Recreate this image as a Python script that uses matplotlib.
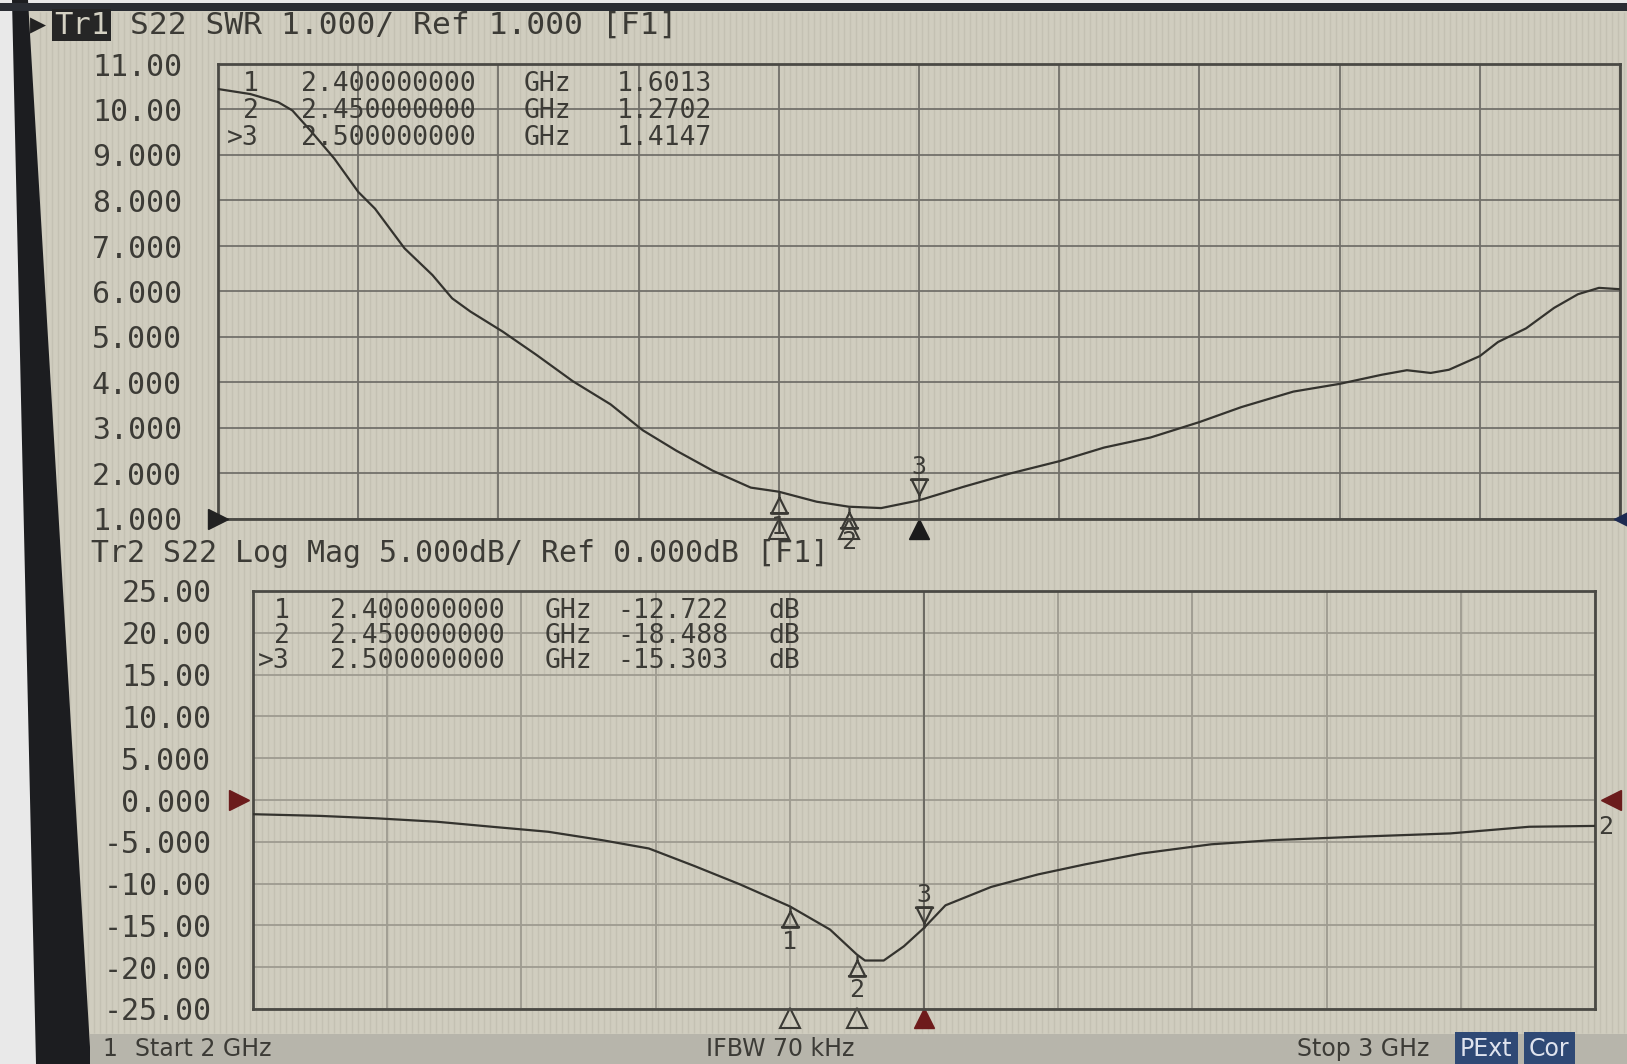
import matplotlib
matplotlib.use("Agg")
import matplotlib.pyplot as plt
import matplotlib.transforms as mtrans
from matplotlib.patches import Polygon, Rectangle
from matplotlib.path import Path
from matplotlib.collections import LineCollection
import numpy as np

# --- data ---
freq_ticks = [2.0, 2.1, 2.2, 2.3, 2.4, 2.5, 2.6, 2.7, 2.8, 2.9, 3.0]

swr_freq = [2.0, 2.023, 2.043, 2.053, 2.067, 2.083, 2.10, 2.112, 2.133, 2.153, 2.167, 2.18,
            2.203, 2.227, 2.253, 2.28, 2.303, 2.327, 2.353, 2.38, 2.40, 2.427, 2.45, 2.473,
            2.50, 2.532, 2.565, 2.60, 2.632, 2.665, 2.70, 2.73, 2.767, 2.80, 2.83, 2.848,
            2.865, 2.878, 2.90, 2.913, 2.933, 2.953, 2.97, 2.985, 3.0]
swr_vals = [10.45, 10.34, 10.16, 9.98, 9.50, 8.92, 8.19, 7.82, 6.95, 6.36, 5.85, 5.56,
            5.12, 4.61, 4.03, 3.52, 2.95, 2.50, 2.06, 1.69, 1.60, 1.38, 1.27, 1.24,
            1.41, 1.71, 2.0, 2.27, 2.57, 2.79, 3.13, 3.46, 3.80, 3.97, 4.17, 4.27,
            4.21, 4.28, 4.58, 4.89, 5.19, 5.64, 5.94, 6.08, 6.05]

s22_freq = [2.0, 2.05, 2.093, 2.137, 2.178, 2.22, 2.26, 2.295, 2.329, 2.363, 2.40, 2.43,
            2.45, 2.456, 2.47, 2.485, 2.50, 2.516, 2.55, 2.585, 2.62, 2.662, 2.714, 2.76,
            2.822, 2.892, 2.951, 3.0]
s22_vals = [-1.7, -1.9, -2.2, -2.6, -3.2, -3.8, -4.8, -5.8, -7.9, -10.1, -12.72, -15.5,
            -18.49, -19.2, -19.2, -17.5, -15.30, -12.6, -10.4, -8.9, -7.7, -6.4, -5.3, -4.8,
            -4.4, -4.0, -3.2, -3.1]

swr_ticks = [1, 2, 3, 4, 5, 6, 7, 8, 9, 10, 11]
swr_labels = ["1.000", "2.000", "3.000", "4.000", "5.000", "6.000", "7.000", "8.000",
              "9.000", "10.00", "11.00"]
db_ticks = [-25, -20, -15, -10, -5, 0, 5, 10, 15, 20, 25]
db_labels = ["-25.00", "-20.00", "-15.00", "-10.00", "-5.000", "0.000", "5.000", "10.00",
             "15.00", "20.00", "25.00"]

mk_names = ["1", "2", ">3"]
mk_freq = [2.4, 2.45, 2.5]
swr_mk = [1.6013, 1.2702, 1.4147]
s22_mk = [-12.722, -18.488, -15.303]

# --- look ---
W, H = 1627, 1064
SCREEN = "#d0cdbf"
TXT = "#3c3b36"
TRACE = "#34332e"
MONO = "DejaVu Sans Mono"


def fx(x):
    return x / W


def fy(y):
    return 1 - y / H


fig = plt.figure(figsize=(W / 100, H / 100), dpi=100, facecolor="#e9e9e9")

# screen, texture, bezel, status bar
fig.add_artist(Polygon([(fx(27), fy(11)), (1, fy(11)), (1, 0), (fx(90), 0)],
                       closed=True, transform=fig.transFigure, fc=SCREEN, ec="none", zorder=-10))
xs = np.arange(40, W, 6)
segs = [[(fx(x), fy(12)), (fx(x), fy(1033))] for x in xs]
fig.add_artist(LineCollection(segs, colors="#c4c1b3", linewidths=1.0,
                              transform=fig.transFigure, zorder=-9))
fig.add_artist(Polygon([(fx(12), 1), (fx(28), 1), (fx(91), 0), (fx(36), 0)],
                       closed=True, transform=fig.transFigure, fc="#1c1d20", ec="none", zorder=-6))
fig.add_artist(Rectangle((0, fy(11)), 1, fy(3) - fy(11), transform=fig.transFigure,
                         fc="#2a2d33", ec="none", zorder=-6))
fig.add_artist(Rectangle((fx(90), 0), 1, fy(1034), transform=fig.transFigure,
                         fc="#b7b5ab", ec="none", zorder=-5))

ax1 = fig.add_axes([fx(218), fy(519), (1620 - 218) / W, (519 - 64) / H])
ax2 = fig.add_axes([fx(253), fy(1009), (1595 - 253) / W, (1009 - 591) / H])

for ax, grid_col in ((ax1, "#72706a"), (ax2, "#9e9b90")):
    ax.set_facecolor("none")
    ax.set_xlim(2.0, 3.0)
    ax.set_xticks(freq_ticks)
    ax.set_xticklabels([])
    ax.tick_params(axis="both", length=0)
    ax.grid(True, color=grid_col, lw=1.3)
    for s in ax.spines.values():
        s.set_color("#4a4944")
        s.set_linewidth(2)

ax1.set_ylim(1, 11)
ax1.set_yticks(swr_ticks)
ax1.set_yticklabels(swr_labels, family=MONO, fontsize=21.5, color=TXT)
ax1.tick_params(axis="y", pad=26)

ax2.set_ylim(-25, 25)
ax2.set_yticks(db_ticks)
ax2.set_yticklabels(db_labels, family=MONO, fontsize=21.5, color=TXT)
ax2.tick_params(axis="y", pad=30)
# marker 3 position line is darker in the log mag view
ax2.axvline(mk_freq[2], color="#6c6a63", lw=1.4, zorder=2)

ax1.plot(swr_freq, swr_vals, color=TRACE, lw=1.6, zorder=3)
ax2.plot(s22_freq, s22_vals, color=TRACE, lw=1.6, zorder=3)

# marker symbols
up = Path([(0, 0), (0, -0.3), (0, -0.3), (-0.45, -1.2), (0.45, -1.2), (0, -0.3),
           (-0.55, -1.2), (0.55, -1.2)],
          [Path.MOVETO, Path.LINETO, Path.MOVETO, Path.LINETO, Path.LINETO, Path.CLOSEPOLY,
           Path.MOVETO, Path.LINETO])
down = Path(up.vertices * [1, -1], up.codes)

for ax, vals, dark3 in ((ax1, swr_mk, "#1b1b1b"), (ax2, s22_mk, "#6e1b1b")):
    ax.plot(mk_freq[:2], vals[:2], ls="none", marker=up, ms=30, mfc="none",
            mec="#3a3934", mew=1.6, zorder=4, clip_on=False)
    ax.plot(mk_freq[2:], vals[2:], ls="none", marker=down, ms=30, mfc="none",
            mec="#3a3934", mew=1.6, zorder=4, clip_on=False)
    for i in range(2):
        ax.annotate(str(i + 1), (mk_freq[i], vals[i]), xytext=(0, -17), textcoords="offset points",
                    ha="center", va="top", family=MONO, fontsize=18, color=TXT,
                    annotation_clip=False)
    ax.annotate("3", (mk_freq[2], vals[2]), xytext=(0, 15), textcoords="offset points",
                ha="center", va="bottom", family=MONO, fontsize=18, color=TXT)
    # marker position indicators under the grid
    xt = ax.get_xaxis_transform()
    ax.plot(mk_freq[:2], [-0.022, -0.022], transform=xt, ls="none", marker="^", ms=15,
            mfc="none", mec="#3a3934", mew=1.5, clip_on=False)
    ax.plot(mk_freq[2:], [-0.022], transform=xt, ls="none", marker="^", ms=15,
            mfc=dark3, mec=dark3, clip_on=False)

# reference position arrows
ax1.plot([2.0], [1.0], marker=">", ms=14, color="#222222", clip_on=False, zorder=5)
ax1.plot([3.0], [1.0], marker="<", ms=14, color="#1d2b52", clip_on=False, zorder=5,
         transform=mtrans.offset_copy(ax1.transData, fig=fig, x=4, y=0, units="dots"))
ax2.plot([2.0], [0.0], marker=">", ms=15, color="#6b1c1c", clip_on=False, zorder=5,
         transform=mtrans.offset_copy(ax2.transData, fig=fig, x=-14, y=0, units="dots"))
ax2.plot([3.0], [0.0], marker="<", ms=15, color="#6b1c1c", clip_on=False, zorder=5,
         transform=mtrans.offset_copy(ax2.transData, fig=fig, x=16, y=0, units="dots"))
fig.text(fx(1606), fy(827), "2", family=MONO, fontsize=18, color=TXT, ha="center", va="center")

# headers
fig.text(fx(30), fy(25), "\u25b6", fontsize=15, color="#222222", va="center")
fig.text(fx(54), fy(25), "Tr1", family=MONO, fontsize=22, color="#d4d1c3", va="center",
         bbox=dict(boxstyle="square,pad=0.06", fc="#262626", ec="none"))
fig.text(fx(130), fy(25), "S22 SWR 1.000/ Ref 1.000 [F1]", family=MONO, fontsize=22.5,
         color=TXT, va="center")
fig.text(fx(91), fy(553), "Tr2 S22 Log Mag 5.000dB/ Ref 0.000dB [F1]", family=MONO,
         fontsize=21.5, color=TXT, va="center")

# marker readouts, column by column
RO = dict(family=MONO, fontsize=19, color=TXT, va="center")
top_rows = [84, 111, 138]
bot_rows = [611, 636, 661]
for i in range(3):
    y = fy(top_rows[i])
    fig.text(fx(259), y, mk_names[i], ha="right", **RO)
    fig.text(fx(301), y, f"{mk_freq[i]:.9f}", **RO)
    fig.text(fx(524), y, "GHz", **RO)
    fig.text(fx(617), y, f"{swr_mk[i]:.4f}", **RO)
    y = fy(bot_rows[i])
    fig.text(fx(290), y, mk_names[i], ha="right", **RO)
    fig.text(fx(330), y, f"{mk_freq[i]:.9f}", **RO)
    fig.text(fx(545), y, "GHz", **RO)
    fig.text(fx(617), y, f"{s22_mk[i]:.3f}", **RO)
    fig.text(fx(768), y, "dB", **RO)

# status bar
sb_y = fy(1049)
fig.text(fx(102), sb_y, "1", fontsize=17, color=TXT, va="center")
fig.text(fx(135), sb_y, "Start 2 GHz", fontsize=17, color=TXT, va="center")
fig.text(fx(706), sb_y, "IFBW 70 kHz", fontsize=17, color=TXT, va="center")
fig.text(fx(1297), sb_y, "Stop 3 GHz", fontsize=17, color=TXT, va="center")
fig.text(fx(1460), sb_y, "PExt", fontsize=17, color="#dfe3ee", va="center",
         bbox=dict(boxstyle="square,pad=0.22", fc="#2f4975", ec="none"))
fig.text(fx(1529), sb_y, "Cor", fontsize=17, color="#dfe3ee", va="center",
         bbox=dict(boxstyle="square,pad=0.22", fc="#2f4975", ec="none"))

fig.savefig("out.png", dpi=100, facecolor=fig.get_facecolor())
